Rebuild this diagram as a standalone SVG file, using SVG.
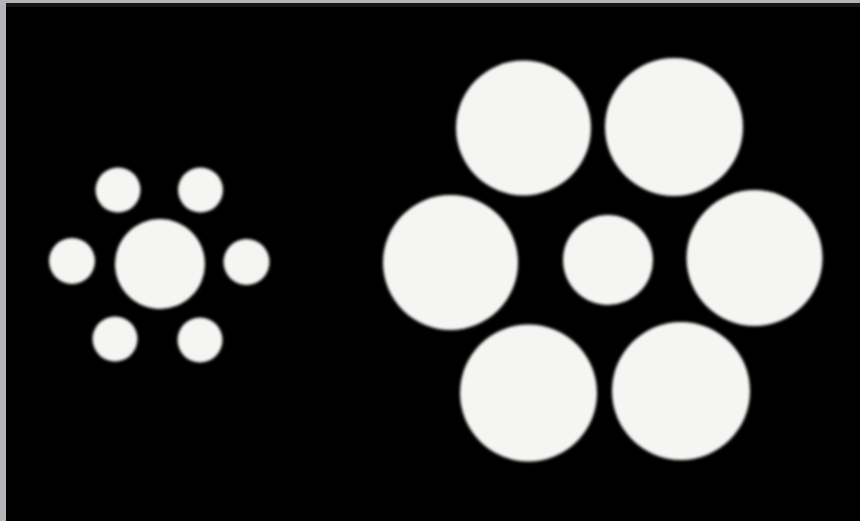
<svg xmlns="http://www.w3.org/2000/svg" width="860" height="521" viewBox="0 0 860 521">
<defs>
<filter id="soft" x="-10%" y="-10%" width="120%" height="120%"><feGaussianBlur stdDeviation="1.6"/></filter>
<style>.c{fill:#f5f5f3;filter:url(#soft)}</style>
</defs>
<rect x="0" y="0" width="860" height="521" fill="#b5b4bb"/>
<rect x="6" y="3" width="854" height="518" fill="#000"/>
<rect x="6" y="3" width="854" height="4" fill="#161616"/>
<g id="small-group">
<circle class="c" cx="160" cy="264" r="45"/>
<circle class="c" cx="118" cy="190" r="22.5"/>
<circle class="c" cx="200.5" cy="190" r="22.5"/>
<circle class="c" cx="72" cy="261" r="23"/>
<circle class="c" cx="246.5" cy="262" r="23"/>
<circle class="c" cx="115" cy="339" r="22.5"/>
<circle class="c" cx="200" cy="340" r="22.5"/>
</g>
<g id="large-group">
<circle class="c" cx="608" cy="260" r="45"/>
<circle class="c" cx="523.5" cy="128" r="67.5"/>
<circle class="c" cx="674" cy="127" r="69"/>
<circle class="c" cx="450.5" cy="262.5" r="67.5"/>
<circle class="c" cx="754.5" cy="258" r="68"/>
<circle class="c" cx="528.5" cy="393" r="68.5"/>
<circle class="c" cx="681" cy="391" r="69"/>
</g>
</svg>
